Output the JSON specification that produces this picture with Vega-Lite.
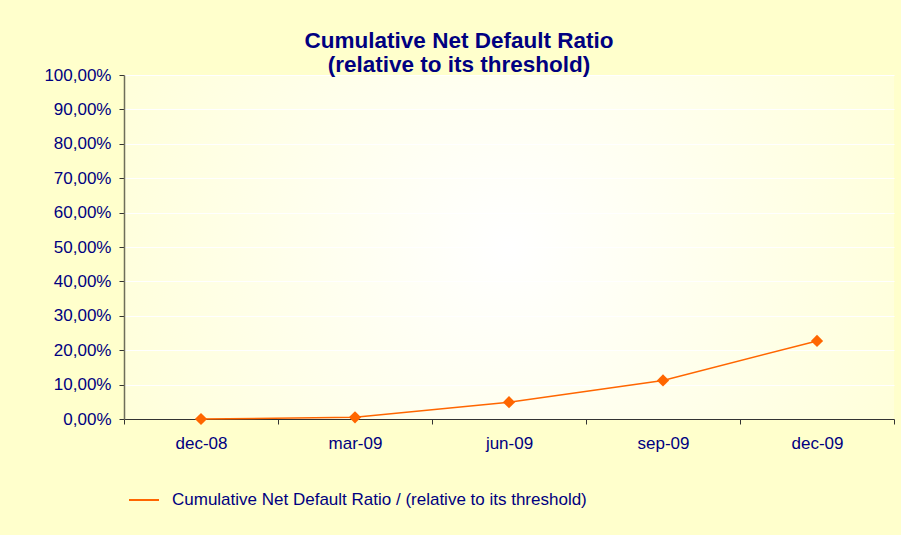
{
  "$schema": "https://vega.github.io/schema/vega-lite/v6.json",
  "width": 770,
  "height": 344,
  "padding": {"left": 43, "top": 30, "right": 8, "bottom": 32},
  "background": "#FFFFCC",
  "title": {
    "text": ["Cumulative Net Default Ratio", "(relative to its threshold)"],
    "font": "Liberation Sans",
    "fontSize": 22.5,
    "fontWeight": "bold",
    "color": "#000080",
    "lineHeight": 24,
    "anchor": "middle",
    "dx": -50,
    "offset": -10.5
  },
  "data": {
    "values": [
      {"month": "dec-08", "ratio": 0.0, "series": "Cumulative Net Default Ratio / (relative to its threshold)"},
      {"month": "mar-09", "ratio": 0.005, "series": "Cumulative Net Default Ratio / (relative to its threshold)"},
      {"month": "jun-09", "ratio": 0.049, "series": "Cumulative Net Default Ratio / (relative to its threshold)"},
      {"month": "sep-09", "ratio": 0.112, "series": "Cumulative Net Default Ratio / (relative to its threshold)"},
      {"month": "dec-09", "ratio": 0.227, "series": "Cumulative Net Default Ratio / (relative to its threshold)"}
    ]
  },
  "mark": {
    "type": "line",
    "strokeWidth": 1.5,
    "point": {"shape": "diamond", "size": 150, "filled": true, "color": "#FF6600", "opacity": 1}
  },
  "encoding": {
    "x": {
      "field": "month",
      "type": "ordinal",
      "sort": null,
      "scale": {"type": "band", "paddingInner": 0, "paddingOuter": 0},
      "axis": {
        "title": null,
        "tickBand": "extent",
        "labelAngle": 0,
        "labelFontSize": 17,
        "labelColor": "#000080",
        "labelPadding": 11,
        "tickSize": 5,
        "tickColor": "#333333",
        "domainColor": "#333333",
        "grid": false
      }
    },
    "y": {
      "field": "ratio",
      "type": "quantitative",
      "scale": {"domain": [0, 1], "nice": false},
      "axis": {
        "title": null,
        "values": [0, 0.1, 0.2, 0.3, 0.4, 0.5, 0.6, 0.7, 0.8, 0.9, 1.0],
        "format": ".2%",
        "grid": true,
        "gridColor": "#FFFFFF",
        "gridWidth": 1.2,
        "tickSize": 5,
        "tickColor": "#333333",
        "domainColor": "#6E6E5A",
        "domainWidth": 1.5,
        "labelFontSize": 17,
        "labelColor": "#000080",
        "labelPadding": 8
      }
    },
    "color": {
      "field": "series",
      "type": "nominal",
      "scale": {"range": ["#FF6600"]},
      "legend": {
        "title": null,
        "orient": "none",
        "legendX": 4,
        "legendY": 409,
        "symbolType": "stroke",
        "symbolSize": 900,
        "symbolStrokeWidth": 2,
        "labelFontSize": 17,
        "labelColor": "#000080",
        "labelLimit": 0,
        "labelOffset": 12
      }
    }
  },
  "config": {
    "locale": {"number": {"decimal": ",", "thousands": ".", "grouping": [3], "currency": ["", " €"]}},
    "font": "Liberation Sans",
    "axis": {"labelFont": "Liberation Sans"},
    "legend": {"labelFont": "Liberation Sans"},
    "view": {
      "stroke": null,
      "fill": {
        "gradient": "radial",
        "x1": 0.5, "y1": 0.5, "r1": 0,
        "x2": 0.5, "y2": 0.5, "r2": 0.75,
        "stops": [
          {"offset": 0, "color": "#FFFFFF"},
          {"offset": 1, "color": "#FFFFCC"}
        ]
      }
    }
  }
}
